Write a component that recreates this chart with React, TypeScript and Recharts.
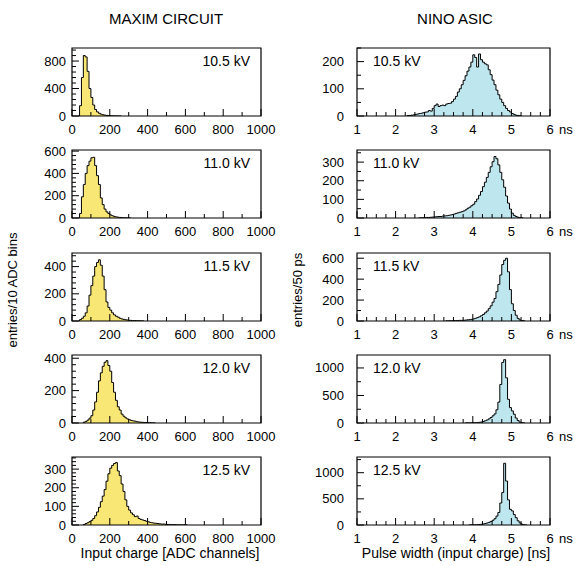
import React from "react";
import { ComposedChart, Area, XAxis, YAxis, ReferenceArea } from "recharts";

const FONT = '"Liberation Sans", Arial, Helvetica, sans-serif';

// MAXIM circuit: entries per 10 ADC bins, first bin low edge in maximStart
const maxim105 = [150, 560, 880, 860, 650, 400, 270, 160, 95, 60, 40, 26, 18, 12, 9, 6, 4, 3, 2, 2, 1, 1];
const maxim110 = [40, 190, 300, 400, 470, 510, 540, 545, 470, 380, 300, 180, 120, 80, 55, 40, 28, 20, 14, 10, 7, 5, 3, 2, 2, 1, 1];
const maxim115 = [10, 20, 35, 60, 110, 190, 260, 330, 400, 430, 450, 410, 330, 230, 140, 100, 80, 60, 45, 35, 28, 20, 15, 12, 9, 7, 5, 4, 3, 3, 2, 2, 1, 1];
const maxim120 = [5, 10, 18, 30, 45, 80, 130, 190, 260, 310, 350, 375, 385, 355, 320, 250, 190, 140, 100, 80, 55, 42, 32, 25, 20, 16, 13, 11, 8, 6, 5, 4, 3, 3, 2, 2, 1, 1];
const maxim125 = [3, 8, 12, 18, 25, 35, 50, 70, 95, 125, 155, 190, 235, 275, 305, 320, 330, 335, 290, 265, 220, 180, 135, 100, 80, 65, 55, 45, 48, 35, 30, 27, 24, 20, 17, 14, 12, 10, 9, 8, 6, 5, 5, 4, 3, 3, 2, 2, 2, 1, 1, 1, 1, 1, 1];
const maximStart = [40, 40, 40, 60, 60];

// NINO ASIC: entries per 50 ps, first bin low edge (ns) in ninoStart
const nino105 = [2, 2, 3, 4, 6, 7, 9, 10, 12, 14, 15, 20, 18, 28, 38, 44, 35, 38, 40, 38, 44, 46, 47, 53, 62, 72, 88, 100, 115, 131, 148, 165, 180, 198, 225, 215, 180, 228, 207, 198, 192, 188, 170, 152, 132, 115, 95, 78, 62, 50, 38, 28, 20, 15, 9, 6, 3, 2, 1];
const nino110 = [1, 1, 2, 2, 3, 3, 4, 5, 6, 7, 8, 8, 10, 11, 12, 14, 16, 18, 21, 25, 28, 31, 34, 38, 44, 52, 58, 66, 74, 88, 102, 122, 142, 168, 192, 218, 245, 275, 302, 330, 318, 285, 245, 205, 165, 118, 80, 48, 26, 14, 8, 4, 2, 1];
const nino115 = [2, 2, 3, 3, 4, 4, 5, 6, 6, 7, 9, 11, 13, 16, 20, 26, 32, 40, 50, 62, 78, 95, 118, 145, 180, 215, 280, 350, 440, 540, 580, 600, 470, 300, 165, 100, 55, 25, 10, 4, 2];
const nino120 = [2, 3, 3, 4, 5, 6, 8, 12, 18, 28, 40, 55, 75, 100, 130, 165, 240, 380, 700, 1100, 1150, 820, 430, 280, 220, 160, 90, 45, 15, 5, 2];
const nino125 = [2, 3, 4, 5, 7, 10, 14, 20, 28, 38, 50, 68, 90, 120, 170, 240, 420, 620, 1180, 840, 480, 300, 270, 200, 140, 80, 40, 15, 5, 2];
const ninoStart = [2.3, 2.6, 3.3, 3.8, 3.9];

const voltages = ["10.5 kV", "11.0 kV", "11.5 kV", "12.0 kV", "12.5 kV"];

const maximYMax = [990, 610, 500, 420, 365];
const maximYMajor = [[0, 400, 800], [0, 200, 400, 600], [0, 200, 400], [0, 200, 400], [0, 100, 200, 300]];
const maximYMinor = [80, 40, 40, 40, 20];
const ninoYMax = [250, 365, 650, 1235, 1300];
const ninoYMajor = [[0, 100, 200], [0, 100, 200, 300], [0, 200, 400, 600], [0, 500, 1000], [0, 500, 1000]];
const ninoYMinor = [50, 50, 100, 250, 250];

const maximXMajor = [0, 200, 400, 600, 800, 1000];
const ninoXMajor = [1, 2, 3, 4, 5, 6];

const rowTops = [48, 150, 253, 355, 457];
const PLOT_H = 68;

const YELLOW = "#f8e774";
const BLUE = "#bee6ee";

function histData(counts: number[], start: number, bin: number) {
  const pts = [{ x: start, y: 0 }];
  counts.forEach((c, i) => pts.push({ x: start + i * bin, y: c }));
  pts.push({ x: start + counts.length * bin, y: 0 });
  return pts;
}

function steps(min: number, max: number, step: number) {
  const out: number[] = [];
  for (let i = 0; min + i * step <= max + 1e-9; i++) out.push(+(min + i * step).toFixed(4));
  return out;
}

const isMajor = (v: number, majors: number[]) => majors.some((m) => Math.abs(m - v) < 1e-6);

interface PanelProps {
  counts: number[];
  start: number;
  bin: number;
  xMin: number;
  xMax: number;
  xMajor: number[];
  xMinor: number;
  yMax: number;
  yMajor: number[];
  yMinor: number;
  color: string;
  left: number;
  top: number;
  w: number;
  labelGap: number;
  unit?: string;
}

function Panel(p: PanelProps) {
  const padL = 50, padR = 24, padT = 6, padB = 24;
  const data = histData(p.counts, p.start, p.bin);

  const xTick = (props: any) => {
    const { x, y, payload } = props;
    const v = payload.value;
    const major = isMajor(v, p.xMajor);
    return (
      <g>
        <line x1={x} x2={x} y1={y} y2={y - (major ? 7 : 4)} stroke="#000" strokeWidth={1} />
        {major && (
          <text x={x} y={y + 18} textAnchor="middle" fontSize={13} fontFamily={FONT} fill="#000">
            {v}
          </text>
        )}
        {major && p.unit && v === p.xMax && (
          <text x={x + 9} y={y + 18} textAnchor="start" fontSize={13} fontFamily={FONT} fill="#000">
            {p.unit}
          </text>
        )}
      </g>
    );
  };

  const yTick = (props: any) => {
    const { x, y, payload } = props;
    const v = payload.value;
    const major = isMajor(v, p.yMajor);
    return (
      <g>
        <line x1={x} x2={x + (major ? 7 : 4)} y1={y} y2={y} stroke="#000" strokeWidth={1} />
        {major && (
          <text x={x - p.labelGap} y={y + 4.5} textAnchor="end" fontSize={13} fontFamily={FONT} fill="#000">
            {v}
          </text>
        )}
      </g>
    );
  };

  return (
    <div style={{ position: "absolute", left: p.left - padL, top: p.top - padT }}>
      <ComposedChart
        width={p.w + padL + padR}
        height={PLOT_H + padT + padB}
        data={data}
        margin={{ top: padT, right: padR, bottom: 0, left: 0 }}
      >
        <Area
          type="stepAfter"
          dataKey="y"
          stroke="#000"
          strokeWidth={1}
          fill={p.color}
          fillOpacity={1}
          dot={false}
          activeDot={false}
          isAnimationActive={false}
        />
        <XAxis
          type="number"
          dataKey="x"
          domain={[p.xMin, p.xMax]}
          ticks={steps(p.xMin, p.xMax, p.xMinor)}
          interval={0}
          tickSize={0}
          tickMargin={0}
          height={padB}
          axisLine={false}
          tickLine={false}
          tick={xTick}
          allowDataOverflow
        />
        <YAxis
          type="number"
          domain={[0, p.yMax]}
          ticks={steps(0, p.yMax, p.yMinor)}
          interval={0}
          tickSize={0}
          tickMargin={0}
          width={padL}
          axisLine={false}
          tickLine={false}
          tick={yTick}
          allowDataOverflow
        />
        <ReferenceArea
          x1={p.xMin}
          x2={p.xMax}
          y1={0}
          y2={p.yMax}
          fill="none"
          fillOpacity={0}
          stroke="#000"
          strokeWidth={1.2}
          ifOverflow="visible"
        />
      </ComposedChart>
    </div>
  );
}

export default function App() {
  const maximSets = [maxim105, maxim110, maxim115, maxim120, maxim125];
  const ninoSets = [nino105, nino110, nino115, nino120, nino125];

  return (
    <div
      style={{
        position: "absolute",
        left: 0,
        top: 0,
        width: 575,
        height: 566,
        overflow: "hidden",
        background: "#fff",
        fontFamily: FONT,
      }}
    >
      {maximSets.map((counts, i) => (
        <Panel
          key={"m" + i}
          counts={counts}
          start={maximStart[i]}
          bin={10}
          xMin={0}
          xMax={1000}
          xMajor={maximXMajor}
          xMinor={100}
          yMax={maximYMax[i]}
          yMajor={maximYMajor[i]}
          yMinor={maximYMinor[i]}
          color={YELLOW}
          left={72}
          top={rowTops[i]}
          w={189}
          labelGap={6}
        />
      ))}
      {ninoSets.map((counts, i) => (
        <Panel
          key={"n" + i}
          counts={counts}
          start={ninoStart[i]}
          bin={0.05}
          xMin={1}
          xMax={6}
          xMajor={ninoXMajor}
          xMinor={0.25}
          yMax={ninoYMax[i]}
          yMajor={ninoYMajor[i]}
          yMinor={ninoYMinor[i]}
          color={BLUE}
          left={357}
          top={rowTops[i]}
          w={193}
          labelGap={13}
          unit="ns"
        />
      ))}
      <svg
        width={575}
        height={566}
        style={{ position: "absolute", left: 0, top: 0, pointerEvents: "none" }}
        fontFamily={FONT}
      >
        <text x={166} y={24} textAnchor="middle" fontSize={15}>MAXIM CIRCUIT</text>
        <text x={455} y={24} textAnchor="middle" fontSize={15}>NINO ASIC</text>
        {voltages.map((v, i) => (
          <text key={"lv" + i} x={250} y={rowTops[i] + 18} textAnchor="end" fontSize={14}>{v}</text>
        ))}
        {voltages.map((v, i) => (
          <text key={"rv" + i} x={373} y={rowTops[i] + 18} textAnchor="start" fontSize={14}>{v}</text>
        ))}
        <text x={16.5} y={290} textAnchor="middle" fontSize={13} transform="rotate(-90 16.5 290)">
          entries/10 ADC bins
        </text>
        <text x={301.5} y={290} textAnchor="middle" fontSize={13} transform="rotate(-90 301.5 290)">
          entries/50 ps
        </text>
        <text x={170} y={558} textAnchor="middle" fontSize={14}>Input charge [ADC channels]</text>
        <text x={456} y={558} textAnchor="middle" fontSize={14}>Pulse width (input charge) [ns]</text>
      </svg>
    </div>
  );
}
